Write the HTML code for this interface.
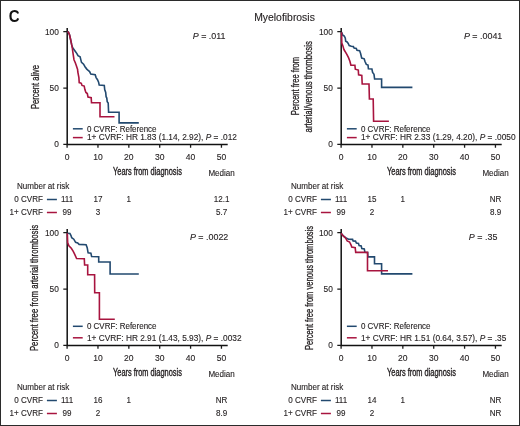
<!DOCTYPE html><html><head><meta charset="utf-8"><style>html,body{margin:0;padding:0;background:#fff;}body{width:520px;height:426px;overflow:hidden;position:relative;}svg{position:absolute;left:0;top:0;display:block;filter:blur(0.3px);}text{font-family:"Liberation Sans", sans-serif;fill:#231f20;stroke:#231f20;stroke-width:0.12px;}</style></head><body>
<svg width="520" height="426" viewBox="0 0 520 426">
<rect x="0" y="0" width="520" height="426" fill="#fff"/>
<rect x="0.5" y="0.5" width="519" height="425" fill="none" stroke="#2b2b2b" stroke-width="1"/>
<text transform="matrix(0.96 0 0 1 8.8 22)" style="font-size:15.6px;font-weight:bold;fill:#111;stroke:none">C</text>
<text transform="matrix(1.02 0 0 1 284.5 20.5)" text-anchor="middle" style="font-size:10.2px">Myelofibrosis</text>
<g><path d="M67.2 27.9V145.1M66.4 144.4H227.7" fill="none" stroke="#111" stroke-width="1.5"/><path d="M63.3 144.4H67.1M63.3 88.05H67.1M63.3 31.7H67.1M67.1 144.4V147.8M97.97 144.4V147.8M128.84 144.4V147.8M159.71 144.4V147.8M190.58 144.4V147.8M221.45 144.4V147.8" fill="none" stroke="#1a1a1a" stroke-width="1.3"/><text transform="matrix(0.97 0 0 1 58.9 147.3)" text-anchor="end" style="font-size:8.6px">0</text><text transform="matrix(0.97 0 0 1 58.9 90.95)" text-anchor="end" style="font-size:8.6px">50</text><text transform="matrix(0.97 0 0 1 58.9 34.6)" text-anchor="end" style="font-size:8.6px">100</text><text transform="matrix(0.98 0 0 1 67.1 159.6)" text-anchor="middle" style="font-size:8.7px">0</text><text transform="matrix(0.98 0 0 1 97.97 159.6)" text-anchor="middle" style="font-size:8.7px">10</text><text transform="matrix(0.98 0 0 1 128.84 159.6)" text-anchor="middle" style="font-size:8.7px">20</text><text transform="matrix(0.98 0 0 1 159.71 159.6)" text-anchor="middle" style="font-size:8.7px">30</text><text transform="matrix(0.98 0 0 1 190.58 159.6)" text-anchor="middle" style="font-size:8.7px">40</text><text transform="matrix(0.98 0 0 1 221.45 159.6)" text-anchor="middle" style="font-size:8.7px">50</text><text x="113" y="174.8" textLength="68.9" lengthAdjust="spacingAndGlyphs" style="font-size:10.2px;stroke-width:0.35px">Years from diagnosis</text><text transform="matrix(0.96 0 0 1 221.6 175.8)" text-anchor="middle" style="font-size:8.4px">Median</text><text transform="translate(38.6 87) rotate(-90)" x="-22.1" y="0" textLength="44.2" lengthAdjust="spacingAndGlyphs" style="font-size:10.2px;stroke-width:0.3px">Percent alive</text><text transform="matrix(0.97 0 0 1 209.1 39.3)" text-anchor="middle" style="font-size:9.2px"><tspan font-style="italic">P</tspan> = .011</text><path d="M72.9 128.8H82.7" stroke="#22496f" stroke-width="1.5"/><path d="M72.9 137.6H82.7" stroke="#a8143f" stroke-width="1.5"/><text transform="matrix(0.95 0 0 1 86.9 131.6)" style="font-size:8.4px">0 CVRF: Reference</text><text transform="matrix(0.99 0 0 1 86.9 140.4)" style="font-size:8.4px">1+ CVRF: HR 1.83 (1.14, 2.92), <tspan font-style="italic">P</tspan> = .012</text><path d="M67.5 31.8 L68.4 32.2 L69.6 35 L70.7 40 L71.7 44.9 L72.7 47.8 L75.2 51.2 L76.9 53.6 L78 55.7 L80.1 56.8 L80.8 59.6 L81.5 62.4 L83.6 64.2 L85 66.7 L86.8 69.1 L88.2 70.5 L89.6 71.6 L90.8 74.1 L95.2 74.8 L96.1 77.6 L97.5 79.7 L98.6 82.2 L99.2 85.1 L104.3 85.4 L104.7 89.6 L105.7 92.5 L106.1 96.7 L106.8 98.1 L107.2 101.6 L108.2 103 L108.6 112.3 L119.1 112.3 L119.1 122.9 L138.8 122.9" fill="none" stroke="#22496f" stroke-width="1.6" stroke-linejoin="miter"/><path d="M67.5 31.8 L68.4 32.2 L69.6 35 L70.7 40 L71.7 44.9 L72.3 48 L72.8 51.8 L74 59.7 L75.3 62.8 L76.2 65.3 L77.6 69.5 L77.8 72 L78.9 77.6 L79.2 82.6 L81.3 83.3 L82 85.4 L84.2 86.1 L84.9 89.6 L85.9 92.4 L87.3 93.5 L88 97 L91.2 97.7 L91.5 102.8 L100 102.8 L100 116.7 L114.5 116.7" fill="none" stroke="#a8143f" stroke-width="1.6" stroke-linejoin="miter"/><text transform="matrix(0.96 0 0 1 17 189.3)" style="font-size:8.4px">Number at risk</text><text transform="matrix(0.96 0 0 1 42.9 202.2)" text-anchor="end" style="font-size:8.4px">0 CVRF</text><text transform="matrix(0.96 0 0 1 42.9 215.2)" text-anchor="end" style="font-size:8.4px">1+ CVRF</text><path d="M46.9 199.5H56.9" stroke="#22496f" stroke-width="1.5"/><path d="M46.9 212.5H56.9" stroke="#a8143f" stroke-width="1.5"/><text transform="matrix(0.96 0 0 1 67.1 202.2)" text-anchor="middle" style="font-size:8.4px">111</text><text transform="matrix(0.96 0 0 1 97.97 202.2)" text-anchor="middle" style="font-size:8.4px">17</text><text transform="matrix(0.96 0 0 1 128.84 202.2)" text-anchor="middle" style="font-size:8.4px">1</text><text transform="matrix(0.96 0 0 1 67.1 215.2)" text-anchor="middle" style="font-size:8.4px">99</text><text transform="matrix(0.96 0 0 1 97.97 215.2)" text-anchor="middle" style="font-size:8.4px">3</text><text transform="matrix(0.96 0 0 1 221.6 202.2)" text-anchor="middle" style="font-size:8.4px">12.1</text><text transform="matrix(0.96 0 0 1 221.6 215.2)" text-anchor="middle" style="font-size:8.4px">5.7</text></g>
<g><path d="M341.2 27.9V145.1M340.4 144.4H501.7" fill="none" stroke="#111" stroke-width="1.5"/><path d="M337.3 144.4H341.1M337.3 88.05H341.1M337.3 31.7H341.1M341.1 144.4V147.8M371.97 144.4V147.8M402.84 144.4V147.8M433.71 144.4V147.8M464.58 144.4V147.8M495.45 144.4V147.8" fill="none" stroke="#1a1a1a" stroke-width="1.3"/><text transform="matrix(0.97 0 0 1 332.9 147.3)" text-anchor="end" style="font-size:8.6px">0</text><text transform="matrix(0.97 0 0 1 332.9 90.95)" text-anchor="end" style="font-size:8.6px">50</text><text transform="matrix(0.97 0 0 1 332.9 34.6)" text-anchor="end" style="font-size:8.6px">100</text><text transform="matrix(0.98 0 0 1 341.1 159.6)" text-anchor="middle" style="font-size:8.7px">0</text><text transform="matrix(0.98 0 0 1 371.97 159.6)" text-anchor="middle" style="font-size:8.7px">10</text><text transform="matrix(0.98 0 0 1 402.84 159.6)" text-anchor="middle" style="font-size:8.7px">20</text><text transform="matrix(0.98 0 0 1 433.71 159.6)" text-anchor="middle" style="font-size:8.7px">30</text><text transform="matrix(0.98 0 0 1 464.58 159.6)" text-anchor="middle" style="font-size:8.7px">40</text><text transform="matrix(0.98 0 0 1 495.45 159.6)" text-anchor="middle" style="font-size:8.7px">50</text><text x="387" y="174.8" textLength="68.9" lengthAdjust="spacingAndGlyphs" style="font-size:10.2px;stroke-width:0.35px">Years from diagnosis</text><text transform="matrix(0.96 0 0 1 495.6 175.8)" text-anchor="middle" style="font-size:8.4px">Median</text><text transform="translate(299.3 86.2) rotate(-90)" x="-29.15" y="0" textLength="58.3" lengthAdjust="spacingAndGlyphs" style="font-size:10.2px;stroke-width:0.3px">Percent free from</text><text transform="translate(312.1 86.8) rotate(-90)" x="-45.65" y="0" textLength="91.3" lengthAdjust="spacingAndGlyphs" style="font-size:10.2px;stroke-width:0.3px">arterial/venous thrombosis</text><text transform="matrix(0.97 0 0 1 483.1 39.3)" text-anchor="middle" style="font-size:9.2px"><tspan font-style="italic">P</tspan> = .0041</text><path d="M346.9 128.8H356.7" stroke="#22496f" stroke-width="1.5"/><path d="M346.9 137.6H356.7" stroke="#a8143f" stroke-width="1.5"/><text transform="matrix(0.95 0 0 1 360.9 131.6)" style="font-size:8.4px">0 CVRF: Reference</text><text transform="matrix(0.99 0 0 1 360.9 140.4)" style="font-size:8.4px">1+ CVRF: HR 2.33 (1.29, 4.20), <tspan font-style="italic">P</tspan> = .0050</text><path d="M341.5 32.2 L342.9 35.3 L344.3 36 L345.3 38.2 L345.7 41.3 L347.1 42 L348.2 43.4 L349.2 45.5 L351.3 46.3 L353.4 46.6 L354.1 48 L356.3 48.4 L357 50.2 L359.6 50.6 L360.6 53.5 L361.7 58.1 L364.2 58.8 L364.9 61.3 L366.3 64.4 L368 65.1 L368.4 68.7 L371.9 69 L372.6 72.5 L374 74.3 L374.6 79 L381.6 79 L381.6 87.4 L412.4 87.4" fill="none" stroke="#22496f" stroke-width="1.6" stroke-linejoin="miter"/><path d="M341.6 32.2 L341.8 43.1 L342.9 45.9 L343.9 49.4 L344.2 50 L346.7 54.2 L348.5 57.7 L349.9 61.3 L350.9 65.3 L354.9 65.3 L355.3 69.2 L358.3 70.1 L358.6 74.8 L361.8 75.4 L362.2 84 L369 84 L369.4 99 L373.2 99 L373.6 121.3 L388.9 121.3" fill="none" stroke="#a8143f" stroke-width="1.6" stroke-linejoin="miter"/><text transform="matrix(0.96 0 0 1 291 189.3)" style="font-size:8.4px">Number at risk</text><text transform="matrix(0.96 0 0 1 316.9 202.2)" text-anchor="end" style="font-size:8.4px">0 CVRF</text><text transform="matrix(0.96 0 0 1 316.9 215.2)" text-anchor="end" style="font-size:8.4px">1+ CVRF</text><path d="M320.9 199.5H330.9" stroke="#22496f" stroke-width="1.5"/><path d="M320.9 212.5H330.9" stroke="#a8143f" stroke-width="1.5"/><text transform="matrix(0.96 0 0 1 341.1 202.2)" text-anchor="middle" style="font-size:8.4px">111</text><text transform="matrix(0.96 0 0 1 371.97 202.2)" text-anchor="middle" style="font-size:8.4px">15</text><text transform="matrix(0.96 0 0 1 402.84 202.2)" text-anchor="middle" style="font-size:8.4px">1</text><text transform="matrix(0.96 0 0 1 341.1 215.2)" text-anchor="middle" style="font-size:8.4px">99</text><text transform="matrix(0.96 0 0 1 371.97 215.2)" text-anchor="middle" style="font-size:8.4px">2</text><text transform="matrix(0.96 0 0 1 495.6 202.2)" text-anchor="middle" style="font-size:8.4px">NR</text><text transform="matrix(0.96 0 0 1 495.6 215.2)" text-anchor="middle" style="font-size:8.4px">8.9</text></g>
<g><path d="M67.2 228.9V346.1M66.4 345.4H227.7" fill="none" stroke="#111" stroke-width="1.5"/><path d="M63.3 345.4H67.1M63.3 289.05H67.1M63.3 232.7H67.1M67.1 345.4V348.8M97.97 345.4V348.8M128.84 345.4V348.8M159.71 345.4V348.8M190.58 345.4V348.8M221.45 345.4V348.8" fill="none" stroke="#1a1a1a" stroke-width="1.3"/><text transform="matrix(0.97 0 0 1 58.9 348.3)" text-anchor="end" style="font-size:8.6px">0</text><text transform="matrix(0.97 0 0 1 58.9 291.95)" text-anchor="end" style="font-size:8.6px">50</text><text transform="matrix(0.97 0 0 1 58.9 235.6)" text-anchor="end" style="font-size:8.6px">100</text><text transform="matrix(0.98 0 0 1 67.1 360.6)" text-anchor="middle" style="font-size:8.7px">0</text><text transform="matrix(0.98 0 0 1 97.97 360.6)" text-anchor="middle" style="font-size:8.7px">10</text><text transform="matrix(0.98 0 0 1 128.84 360.6)" text-anchor="middle" style="font-size:8.7px">20</text><text transform="matrix(0.98 0 0 1 159.71 360.6)" text-anchor="middle" style="font-size:8.7px">30</text><text transform="matrix(0.98 0 0 1 190.58 360.6)" text-anchor="middle" style="font-size:8.7px">40</text><text transform="matrix(0.98 0 0 1 221.45 360.6)" text-anchor="middle" style="font-size:8.7px">50</text><text x="113" y="375.8" textLength="68.9" lengthAdjust="spacingAndGlyphs" style="font-size:10.2px;stroke-width:0.35px">Years from diagnosis</text><text transform="matrix(0.96 0 0 1 221.6 376.8)" text-anchor="middle" style="font-size:8.4px">Median</text><text transform="translate(38.4 288) rotate(-90)" x="-63.1" y="0" textLength="126.2" lengthAdjust="spacingAndGlyphs" style="font-size:10.2px;stroke-width:0.3px">Percent free from arterial thrombosis</text><text transform="matrix(0.97 0 0 1 209.1 240.3)" text-anchor="middle" style="font-size:9.2px"><tspan font-style="italic">P</tspan> = .0022</text><path d="M72.9 326.3H82.7" stroke="#22496f" stroke-width="1.5"/><path d="M72.9 337.8H82.7" stroke="#a8143f" stroke-width="1.5"/><text transform="matrix(0.95 0 0 1 86.9 329.1)" style="font-size:8.4px">0 CVRF: Reference</text><text transform="matrix(0.99 0 0 1 86.9 340.6)" style="font-size:8.4px">1+ CVRF: HR 2.91 (1.43, 5.93), <tspan font-style="italic">P</tspan> = .0032</text><path d="M67.3 233.2 L69.9 233.5 L71 235.6 L71.7 237.7 L73.8 239.2 L75.6 242.3 L77.7 243 L79.1 244.4 L86.1 244.8 L87.2 247.6 L88.1 252.8 L90.9 253.2 L91.6 256.5 L98.7 256.7 L98.7 262 L110.1 262 L110.1 274 L138.8 274" fill="none" stroke="#22496f" stroke-width="1.6" stroke-linejoin="miter"/><path d="M67.3 233.2 L67.7 242.7 L68.9 245.8 L71.3 248.3 L73.1 251.1 L74.5 253.9 L76.6 258.5 L84.3 258.7 L84.6 265 L87.7 265 L87.7 274.8 L94.6 274.8 L94.7 292.7 L99.4 292.7 L99.4 319.2 L114.8 319.2" fill="none" stroke="#a8143f" stroke-width="1.6" stroke-linejoin="miter"/><text transform="matrix(0.96 0 0 1 17 390.3)" style="font-size:8.4px">Number at risk</text><text transform="matrix(0.96 0 0 1 42.9 403.2)" text-anchor="end" style="font-size:8.4px">0 CVRF</text><text transform="matrix(0.96 0 0 1 42.9 416.2)" text-anchor="end" style="font-size:8.4px">1+ CVRF</text><path d="M46.9 400.5H56.9" stroke="#22496f" stroke-width="1.5"/><path d="M46.9 413.5H56.9" stroke="#a8143f" stroke-width="1.5"/><text transform="matrix(0.96 0 0 1 67.1 403.2)" text-anchor="middle" style="font-size:8.4px">111</text><text transform="matrix(0.96 0 0 1 97.97 403.2)" text-anchor="middle" style="font-size:8.4px">16</text><text transform="matrix(0.96 0 0 1 128.84 403.2)" text-anchor="middle" style="font-size:8.4px">1</text><text transform="matrix(0.96 0 0 1 67.1 416.2)" text-anchor="middle" style="font-size:8.4px">99</text><text transform="matrix(0.96 0 0 1 97.97 416.2)" text-anchor="middle" style="font-size:8.4px">2</text><text transform="matrix(0.96 0 0 1 221.6 403.2)" text-anchor="middle" style="font-size:8.4px">NR</text><text transform="matrix(0.96 0 0 1 221.6 416.2)" text-anchor="middle" style="font-size:8.4px">8.9</text></g>
<g><path d="M341.2 228.9V346.1M340.4 345.4H501.7" fill="none" stroke="#111" stroke-width="1.5"/><path d="M337.3 345.4H341.1M337.3 289.05H341.1M337.3 232.7H341.1M341.1 345.4V348.8M371.97 345.4V348.8M402.84 345.4V348.8M433.71 345.4V348.8M464.58 345.4V348.8M495.45 345.4V348.8" fill="none" stroke="#1a1a1a" stroke-width="1.3"/><text transform="matrix(0.97 0 0 1 332.9 348.3)" text-anchor="end" style="font-size:8.6px">0</text><text transform="matrix(0.97 0 0 1 332.9 291.95)" text-anchor="end" style="font-size:8.6px">50</text><text transform="matrix(0.97 0 0 1 332.9 235.6)" text-anchor="end" style="font-size:8.6px">100</text><text transform="matrix(0.98 0 0 1 341.1 360.6)" text-anchor="middle" style="font-size:8.7px">0</text><text transform="matrix(0.98 0 0 1 371.97 360.6)" text-anchor="middle" style="font-size:8.7px">10</text><text transform="matrix(0.98 0 0 1 402.84 360.6)" text-anchor="middle" style="font-size:8.7px">20</text><text transform="matrix(0.98 0 0 1 433.71 360.6)" text-anchor="middle" style="font-size:8.7px">30</text><text transform="matrix(0.98 0 0 1 464.58 360.6)" text-anchor="middle" style="font-size:8.7px">40</text><text transform="matrix(0.98 0 0 1 495.45 360.6)" text-anchor="middle" style="font-size:8.7px">50</text><text x="387" y="375.8" textLength="68.9" lengthAdjust="spacingAndGlyphs" style="font-size:10.2px;stroke-width:0.35px">Years from diagnosis</text><text transform="matrix(0.96 0 0 1 495.6 376.8)" text-anchor="middle" style="font-size:8.4px">Median</text><text transform="translate(312.8 288) rotate(-90)" x="-62.1" y="0" textLength="124.2" lengthAdjust="spacingAndGlyphs" style="font-size:10.2px;stroke-width:0.3px">Percent free from venous thrombosis</text><text transform="matrix(0.97 0 0 1 483.1 240.3)" text-anchor="middle" style="font-size:9.2px"><tspan font-style="italic">P</tspan> = .35</text><path d="M346.9 326.3H356.7" stroke="#22496f" stroke-width="1.5"/><path d="M346.9 337.8H356.7" stroke="#a8143f" stroke-width="1.5"/><text transform="matrix(0.95 0 0 1 360.9 329.1)" style="font-size:8.4px">0 CVRF: Reference</text><text transform="matrix(0.99 0 0 1 360.9 340.6)" style="font-size:8.4px">1+ CVRF: HR 1.51 (0.64, 3.57), <tspan font-style="italic">P</tspan> = .35</text><path d="M341.1 233.2 L343.4 236 L345.6 237.6 L348.5 239.3 L352.6 239.4 L353.1 240.9 L355.5 241.1 L356.4 243 L358.5 243.4 L359.1 245.6 L361.2 245.9 L361.8 248.5 L364.3 248.9 L364.9 252.3 L367.7 252.5 L367.9 256.9 L374.5 256.9 L374.5 263.7 L381.6 263.7 L381.6 273.9 L412.4 273.9" fill="none" stroke="#22496f" stroke-width="1.6" stroke-linejoin="miter"/><path d="M341.1 233.2 L343.4 236.2 L345.4 237.9 L346.5 239.6 L347.2 241 L349.6 242 L350.5 244 L351.3 245.5 L351.7 247 L355.2 247.6 L355.7 252.4 L367.5 252.4 L367.5 270.8 L388 270.8" fill="none" stroke="#a8143f" stroke-width="1.6" stroke-linejoin="miter"/><text transform="matrix(0.96 0 0 1 291 390.3)" style="font-size:8.4px">Number at risk</text><text transform="matrix(0.96 0 0 1 316.9 403.2)" text-anchor="end" style="font-size:8.4px">0 CVRF</text><text transform="matrix(0.96 0 0 1 316.9 416.2)" text-anchor="end" style="font-size:8.4px">1+ CVRF</text><path d="M320.9 400.5H330.9" stroke="#22496f" stroke-width="1.5"/><path d="M320.9 413.5H330.9" stroke="#a8143f" stroke-width="1.5"/><text transform="matrix(0.96 0 0 1 341.1 403.2)" text-anchor="middle" style="font-size:8.4px">111</text><text transform="matrix(0.96 0 0 1 371.97 403.2)" text-anchor="middle" style="font-size:8.4px">14</text><text transform="matrix(0.96 0 0 1 402.84 403.2)" text-anchor="middle" style="font-size:8.4px">1</text><text transform="matrix(0.96 0 0 1 341.1 416.2)" text-anchor="middle" style="font-size:8.4px">99</text><text transform="matrix(0.96 0 0 1 371.97 416.2)" text-anchor="middle" style="font-size:8.4px">2</text><text transform="matrix(0.96 0 0 1 495.6 403.2)" text-anchor="middle" style="font-size:8.4px">NR</text><text transform="matrix(0.96 0 0 1 495.6 416.2)" text-anchor="middle" style="font-size:8.4px">NR</text></g>
</svg></body></html>
